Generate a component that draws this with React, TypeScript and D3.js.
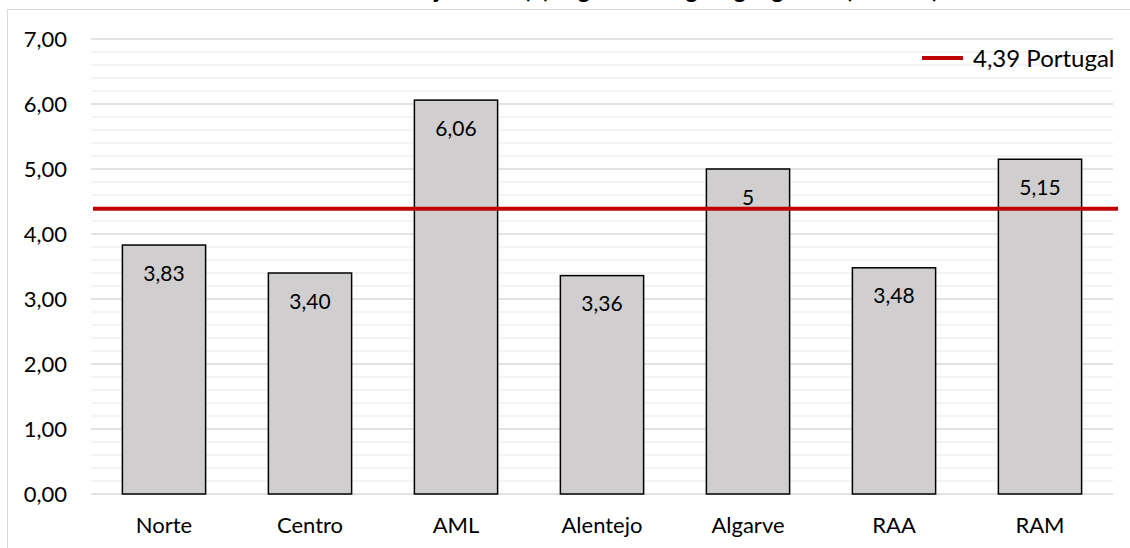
import React from "react";
import * as d3 from "d3";

// Regional values (€) and national reference
const regions: string[] = ["Norte", "Centro", "AML", "Alentejo", "Algarve", "RAA", "RAM"];
const values: number[] = [3.83, 3.4, 6.06, 3.36, 5, 3.48, 5.15];
const valueLabels: string[] = ["3,83", "3,40", "6,06", "3,36", "5", "3,48", "5,15"];
const portugalValue = 4.39;
const portugalLabel = "4,39 Portugal";
const yTicks: number[] = [0, 1, 2, 3, 4, 5, 6, 7];
const chartTitle = "Valor médio diário de alojamento (€) segundo a região geográfica (NUTS II)";

const W = 1130;
const H = 548;
const FONT = "Lato, 'Open Sans', sans-serif";

const fmt = (v: number) => v.toFixed(2).replace(".", ",");

export default function App() {
  const left = 91;
  const right = 1113;
  const top = 39;
  const bottom = 494;

  const x = d3
    .scaleBand<string>()
    .domain(regions)
    .range([left, right])
    .paddingInner(0.43)
    .paddingOuter(0.215);

  const y = d3.scaleLinear().domain([0, 7]).range([bottom, top]);

  const minorTicks = d3.range(0, 7.0001, 0.2).filter((t) => Math.abs(t - Math.round(t)) > 1e-6);

  return (
    <svg
      width={W}
      height={H}
      style={{ position: "absolute", left: 0, top: 0, background: "#fff" }}
      fontFamily={FONT}
    >
      <rect x={0} y={0} width={W} height={H} fill="#fff" />
      {/* title, sitting above the top edge of the frame */}
      <text x={560} y={-2} textAnchor="middle" fontSize={23} fontWeight="bold" fill="#000">
        {chartTitle}
      </text>
      {/* chart frame */}
      <rect x={7.5} y={9.5} width={W + 10} height={H + 10} fill="none" stroke="#d9d9d9" strokeWidth={1} />

      {/* minor gridlines */}
      {minorTicks.map((t, i) => (
        <line key={"m" + i} x1={left} x2={right} y1={y(t)} y2={y(t)} stroke="#f0f0f0" strokeWidth={1.5} />
      ))}
      {/* major gridlines */}
      {yTicks.map((t) => (
        <line key={"g" + t} x1={left} x2={right} y1={y(t)} y2={y(t)} stroke="#d9d9d9" strokeWidth={1.5} />
      ))}

      {/* y tick labels */}
      {yTicks.map((t) => (
        <text
          key={"t" + t}
          x={67}
          y={y(t)}
          dy="0.36em"
          textAnchor="end"
          fontSize={22}
          fill="#000"
        >
          {fmt(t)}
        </text>
      ))}

      {/* bars */}
      {regions.map((r, i) => (
        <rect
          key={"b" + r}
          x={x(r)!}
          y={y(values[i])}
          width={x.bandwidth()}
          height={y(0) - y(values[i])}
          fill="#d0cece"
          stroke="#000"
          strokeWidth={1.5}
        />
      ))}

      {/* value labels */}
      {regions.map((r, i) => (
        <text
          key={"v" + r}
          x={x(r)! + x.bandwidth() / 2}
          y={y(values[i]) + 28}
          dy="0.36em"
          textAnchor="middle"
          fontSize={21}
          fill="#000"
        >
          {valueLabels[i]}
        </text>
      ))}

      {/* national reference line */}
      <line
        x1={93}
        x2={1118}
        y1={y(portugalValue)}
        y2={y(portugalValue)}
        stroke="#c00000"
        strokeWidth={4}
      />

      {/* category labels */}
      {regions.map((r) => (
        <text
          key={"c" + r}
          x={x(r)! + x.bandwidth() / 2}
          y={525}
          dy="0.36em"
          textAnchor="middle"
          fontSize={22}
          fill="#000"
        >
          {r}
        </text>
      ))}

      {/* legend */}
      <line x1={922} x2={963} y1={58} y2={58} stroke="#c00000" strokeWidth={4} />
      <text x={973} y={58} dy="0.36em" fontSize={24} fill="#000">
        {portugalLabel}
      </text>
    </svg>
  );
}
